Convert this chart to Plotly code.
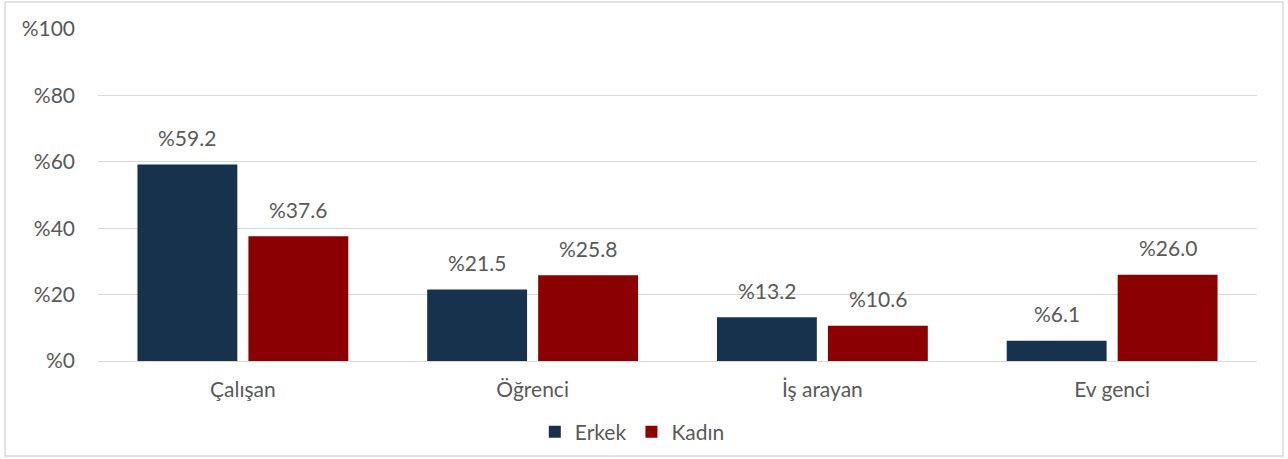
import plotly.graph_objects as go

categories = ["Çalışan", "Öğrenci", "İş arayan", "Ev genci"]
erkek = [59.2, 21.5, 13.2, 6.1]
kadin = [37.6, 25.8, 10.6, 26.0]
series_names = ["Erkek", "Kadın"]
colors = ["#17324D", "#8B0000"]
y_ticks = [0, 20, 40, 60, 80, 100]
y_tick_labels = ["%" + str(v) for v in y_ticks]

FONT = "Lato, Carlito, Calibri, sans-serif"
TXT = "#595959"
FS = 21

fig = go.Figure()
for name, vals, col in zip(series_names, [erkek, kadin], colors):
    fig.add_trace(go.Bar(x=categories, y=vals, name=name, marker_color=col,
                         marker_line_width=0))

# value labels
for vals, shift in zip([erkek, kadin], [-55.5, 55.5]):
    for c, v in zip(categories, vals):
        fig.add_annotation(x=c, y=v, text="%" + f"{v:.1f}", showarrow=False,
                           xshift=shift, yshift=27, yanchor="middle",
                           font=dict(family=FONT, size=FS, color=TXT))

fig.update_layout(
    width=1288, height=459,
    margin=dict(l=98, r=31, t=29, b=98, autoexpand=False),
    paper_bgcolor="white", plot_bgcolor="white",
    barmode="group", bargap=0.234, bargroupgap=0.1,
    font=dict(family=FONT, size=FS, color=TXT),
    legend=dict(orientation="h", x=0.461, xanchor="center", y=-0.214, yanchor="middle",
                font=dict(family=FONT, size=FS, color=TXT), itemwidth=30,
                traceorder="normal"),
    xaxis=dict(showgrid=False, showline=True, linecolor="#D9D9D9", linewidth=1,
               ticks="", ticklabelstandoff=10, tickfont=dict(family=FONT, size=FS, color=TXT)),
    yaxis=dict(range=[0, 100], tickvals=y_ticks, ticktext=y_tick_labels,
               showgrid=True, gridcolor="#D9D9D9", gridwidth=1, zeroline=False,
               showline=False, ticks="", ticklabelstandoff=22,
               tickfont=dict(family=FONT, size=FS, color=TXT)),
    shapes=[dict(type="rect", xref="paper", yref="paper",
                 x0=-0.0802, x1=1.0224, y0=-0.286, y1=1.0813,
                 line=dict(color="#D9D9D9", width=1.5), fillcolor="rgba(0,0,0,0)",
                 layer="below")],
)

fig.write_html("out.html", config={"displayModeBar": False},
               post_script="document.body.style.margin='0';document.body.style.overflow='hidden';")
